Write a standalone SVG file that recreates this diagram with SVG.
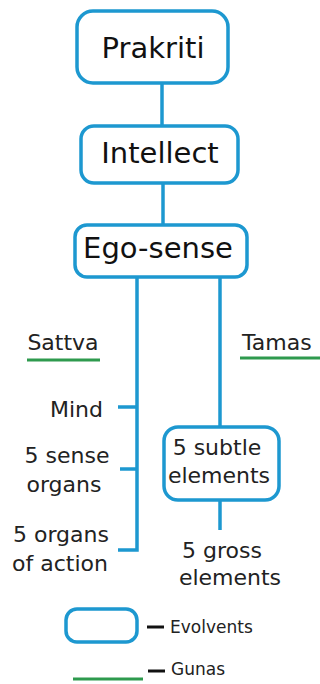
<svg xmlns="http://www.w3.org/2000/svg" width="320" height="684" viewBox="0 0 320 684">
<style>
.box{fill:#ffffff;stroke:#1d98d0;stroke-width:3.5}
.conn{stroke:#1d98d0;stroke-width:3.5;fill:none}
.guna{stroke:#2e9a4e;stroke-width:3;fill:none}
.dash{stroke:#111;stroke-width:3}
.big{font-family:"DejaVu Sans",sans-serif;font-size:29px;fill:#111}
.lbl{font-family:"DejaVu Sans",sans-serif;font-size:22px;fill:#222}
.leg{font-family:"DejaVu Sans",sans-serif;font-size:17px;fill:#222}
</style>
<rect width="320" height="684" fill="#ffffff"/>
<g id="connectors">
<line class="conn" x1="162" y1="83" x2="162" y2="125"/>
<line class="conn" x1="163" y1="183" x2="163" y2="225"/>
<polyline class="conn" points="137,277 137,550 118,550"/>
<line class="conn" x1="118" y1="407" x2="137" y2="407"/>
<line class="conn" x1="120" y1="469" x2="137" y2="469"/>
<line class="conn" x1="220" y1="277" x2="220" y2="427"/>
<line class="conn" x1="220" y1="500" x2="220" y2="530"/>
</g>
<g id="prakriti">
<rect class="box" x="77" y="11" width="151" height="72" rx="16"/>
<text class="big" x="153" y="58" text-anchor="middle">Prakriti</text>
</g>
<g id="intellect">
<rect class="box" x="81" y="126" width="157" height="57" rx="13"/>
<text class="big" x="160" y="163" text-anchor="middle">Intellect</text>
</g>
<g id="ego-sense">
<rect class="box" x="75" y="225" width="172" height="52" rx="12"/>
<text class="big" x="158" y="258" text-anchor="middle">Ego-sense</text>
</g>
<g id="sattva">
<text class="lbl" x="63" y="350" text-anchor="middle">Sattva</text>
<line class="guna" x1="27" y1="360" x2="100" y2="360"/>
</g>
<g id="tamas">
<text class="lbl" x="242" y="350">Tamas</text>
<line class="guna" x1="240" y1="358" x2="320" y2="358"/>
</g>
<g id="mind">
<text class="lbl" x="103" y="417" text-anchor="end">Mind</text>
</g>
<g id="sense-organs">
<text class="lbl" x="67" y="463" text-anchor="middle">5 sense</text>
<text class="lbl" x="64" y="492" text-anchor="middle">organs</text>
</g>
<g id="organs-of-action">
<text class="lbl" x="61" y="542" text-anchor="middle">5 organs</text>
<text class="lbl" x="60" y="571" text-anchor="middle">of action</text>
</g>
<g id="subtle-elements">
<rect class="box" x="164" y="427" width="115" height="73" rx="14"/>
<text class="lbl" x="217" y="455" text-anchor="middle">5 subtle</text>
<text class="lbl" x="219" y="483" text-anchor="middle">elements</text>
</g>
<g id="gross-elements">
<text class="lbl" x="222" y="558" text-anchor="middle">5 gross</text>
<text class="lbl" x="230" y="585" text-anchor="middle">elements</text>
</g>
<g id="legend">
<rect class="box" x="66" y="609" width="71" height="33" rx="11"/>
<line class="dash" x1="147" y1="627" x2="164" y2="627"/>
<text class="leg" x="170" y="633">Evolvents</text>
<line class="guna" x1="73" y1="679" x2="143" y2="679"/>
<line class="dash" x1="148" y1="671" x2="165" y2="671"/>
<text class="leg" x="171" y="675">Gunas</text>
</g>
</svg>
